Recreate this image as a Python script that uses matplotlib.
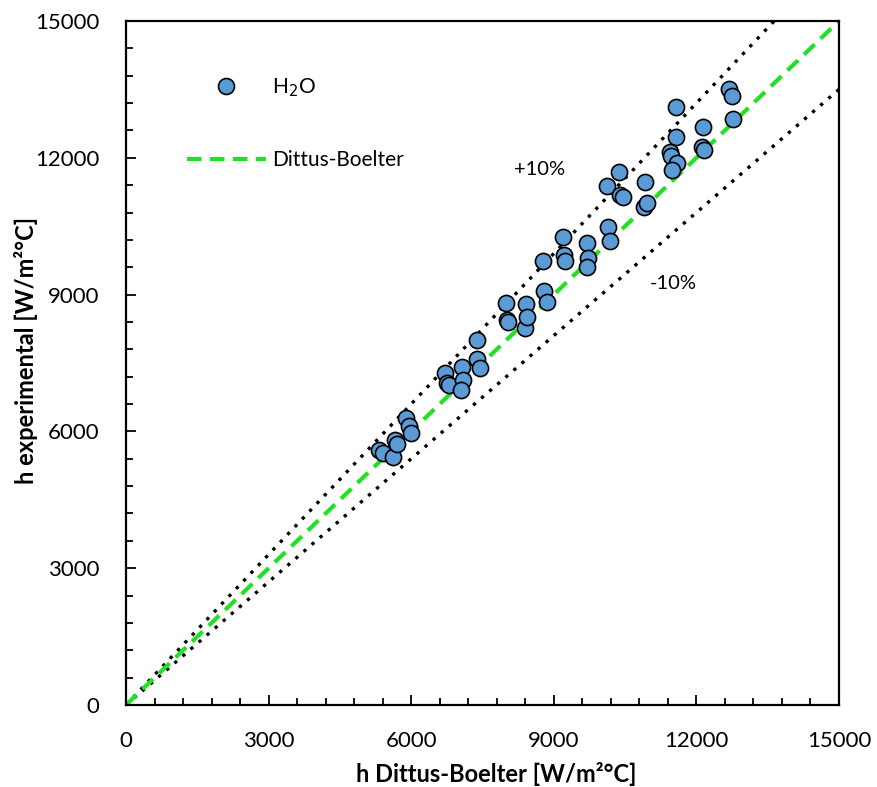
import matplotlib
matplotlib.use("Agg")
import matplotlib.pyplot as plt
from matplotlib.ticker import MultipleLocator
from matplotlib.lines import Line2D

plt.rcParams['font.family'] = ['Lato', 'DejaVu Sans']

# h from Dittus-Boelter correlation vs measured h (W/m2 C)
h_db = [5330, 5410, 5610, 5660, 5710, 5890, 5950, 5990, 6710, 6760,
        6800, 7060, 7100, 7040, 7390, 7450, 7390, 7990, 8010, 8040,
        8390, 8420, 8440, 8800, 8850, 8780, 9200, 9215, 9240, 9690,
        9730, 9690, 10150, 10180, 10370, 10110, 10390, 10450, 10920, 10900,
        10970, 11565, 11570, 11445, 11460, 11600, 11490, 12130, 12120, 12160,
        12690, 12740, 12765]
h_exp = [5590, 5520, 5445, 5810, 5725, 6285, 6120, 5960, 7275, 7055,
         7020, 7420, 7130, 6910, 7580, 7385, 8005, 8810, 8445, 8405,
         8260, 8790, 8510, 9085, 8845, 9745, 10270, 9870, 9745, 10140,
         9795, 9610, 10475, 10185, 11695, 11380, 11185, 11135, 11475, 10930,
         11015, 13120, 12465, 12135, 12040, 11880, 11735, 12680, 12245, 12170,
         13500, 13355, 12860]

line_x = [0, 15000]
band = 0.10

fig = plt.figure(figsize=(8.77, 7.87), dpi=100)
ax = fig.add_axes([126 / 877, 1 - 705 / 787, 713 / 877, 684 / 787])

ax.plot(line_x, [v * (1 + band) for v in line_x], color='black', linestyle=(0, (1, 2.2)),
        linewidth=2.4, zorder=1)
ax.plot(line_x, [v * (1 - band) for v in line_x], color='black', linestyle=(0, (1, 2.2)),
        linewidth=2.4, zorder=1)
ax.plot(line_x, line_x, color='#22e022', linestyle=(0, (3.5, 2)), linewidth=3, zorder=2)
ax.scatter(h_db, h_exp, s=135, color='#5b9bd5', edgecolor='black', linewidth=1.2, zorder=3)

ax.set_xlim(0, 15000)
ax.set_ylim(0, 15000)
ax.xaxis.set_major_locator(MultipleLocator(3000))
ax.yaxis.set_major_locator(MultipleLocator(3000))
ax.xaxis.set_minor_locator(MultipleLocator(600))
ax.yaxis.set_minor_locator(MultipleLocator(600))
ax.tick_params(which='both', direction='in', labelsize=16, width=1.3)
ax.tick_params(which='major', length=7, pad=19)
ax.tick_params(which='minor', length=5)
for s in ax.spines.values():
    s.set_linewidth(1.6)

ax.set_xlabel('h Dittus-Boelter [W/m²°C]', fontsize=17, fontweight='bold')
ax.set_ylabel('h experimental [W/m²°C]', fontsize=17, fontweight='bold')
ax.xaxis.set_label_coords(0.519, -0.084)
ax.yaxis.set_label_coords(-0.123, 0.519)

ax.text(8710, 11733, '+10%', fontsize=14.5, ha='center', va='center')
ax.text(11508, 9254, '-10%', fontsize=14.5, ha='center', va='center')

handles = [
    Line2D([], [], marker='o', linestyle='none', markersize=11.5, markerfacecolor='#5b9bd5',
           markeredgecolor='black', markeredgewidth=1.2),
    Line2D([], [], color='#22e022', linestyle=(0, (3.5, 2)), linewidth=3),
]
ax.legend(handles, ['H$_2$O', 'Dittus-Boelter'], loc='upper left', bbox_to_anchor=(0.085, 0.919),
          frameon=False, fontsize=15, handlelength=3.8, handletextpad=0.3,
          labelspacing=2.45, borderpad=0, borderaxespad=0)

fig.savefig('out.png', dpi=100)
